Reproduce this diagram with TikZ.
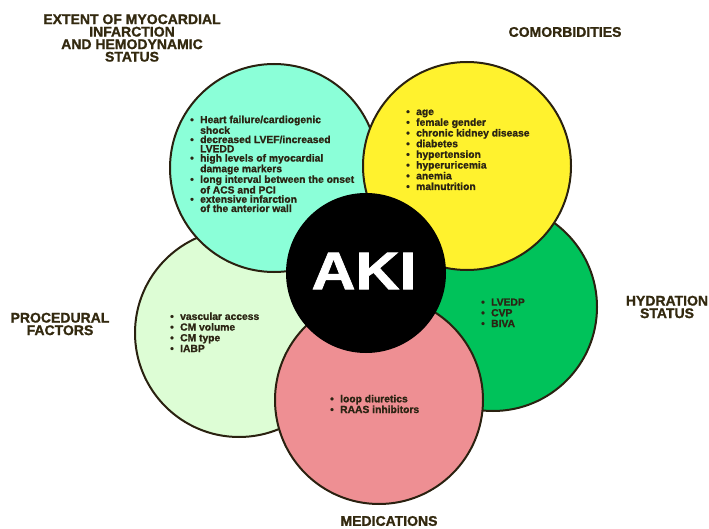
\documentclass[tikz,border=0pt]{standalone}
\usepackage{fontspec}
\setmainfont{Liberation Sans}[BoldFeatures={FakeBold=1.2}]
\usepackage{xcolor}
\definecolor{rimbrown}{HTML}{2A2110}
\definecolor{headbrown}{HTML}{33290F}
\definecolor{listdark}{HTML}{2B2413}
\definecolor{aquapetal}{HTML}{8BFFD8}
\definecolor{yellowpetal}{HTML}{FFF22E}
\definecolor{greenpetal}{HTML}{00C25A}
\definecolor{palepetal}{HTML}{DDFDD5}
\definecolor{pinkpetal}{HTML}{EE8F93}
\newcommand{\bul}[1]{\makebox[10pt][l]{\textbullet}#1}
\newcommand{\cont}[1]{\hspace*{10pt}#1}

\begin{document}
\begin{tikzpicture}[x=1pt, y=-1pt]
        % ================= styles =================
        \tikzset{
            % coloured petal circle
            petal/.style={circle, draw=rimbrown, line width=2pt, minimum size=208pt, inner sep=0pt},
            % black hub in the middle
            hub/.style={circle, fill=black, minimum size=160pt, inner sep=0pt},
            % outer group titles
            heading/.style={align=center, inner sep=0pt, text=headbrown, font=\bfseries\fontsize{14}{12.5}\selectfont},
            % bullet lists inside the petals (anchored on the last baseline)
            factors/.style={align=left, anchor=base west, inner sep=0pt, text=listdark, font=\bfseries\fontsize{10.3}{10.7}\selectfont}
        }
        \useasboundingbox (0,0) rectangle (709,529);

        % ================= centres (pixel grid) =================
        \coordinate (infarct_c) at (274,168);
        \coordinate (comorb_c) at (467,166);
        \coordinate (hydra_c) at (493,307);
        \coordinate (proc_c) at (239,333);
        \coordinate (med_c) at (379,400);
        \coordinate (aki_c) at (366,273);

        % ================= petals (back to front) =================
        \node[petal, fill=greenpetal] (hydra) at (hydra_c) {};
        \node[petal, fill=palepetal] (proc) at (proc_c) {};
        \node[petal, fill=aquapetal] (infarct) at (infarct_c) {};
        \node[petal, fill=yellowpetal] (comorb) at (comorb_c) {};
        \node[petal, fill=pinkpetal] (med) at (med_c) {};
        \node[hub] (aki) at (aki_c) {};
        \node[text=white, font=\bfseries\fontsize{53}{53}\selectfont] (aki_t) at (364,271) {\scalebox{1.15}[1]{AKI}};

        % ================= lists =================
        \node[factors, font=\bfseries\fontsize{10.3}{9.25}\selectfont] (infarct_l) at (190,212)
            {\bul{Heart failure/cardiogenic}\\ \cont{shock}\\
             \bul{decreased LVEF/increased}\\ \cont{LVEDD}\\
             \bul{high levels of myocardial}\\ \cont{damage markers}\\
             \bul{long interval between the onset}\\ \cont{of ACS and PCI}\\
             \bul{extensive infarction}\\ \cont{of the anterior wall}};
        \node[factors] (comorb_l) at (406,190)
            {\bul{age}\\ \bul{female gender}\\ \bul{chronic kidney disease}\\ \bul{diabetes}\\
             \bul{hypertension}\\ \bul{hyperuricemia}\\ \bul{anemia}\\ \bul{malnutrition}};
        \node[factors] (hydra_l) at (481,327)
            {\bul{LVEDP}\\ \bul{CVP}\\ \bul{BIVA}};
        \node[factors] (proc_l) at (170,352)
            {\bul{vascular access}\\ \bul{CM volume}\\ \bul{CM type}\\ \bul{IABP}};
        \node[factors] (med_l) at (330,413)
            {\bul{loop diuretics}\\ \bul{RAAS inhibitors}};

        % ================= group titles =================
        \node[heading] (infarct_h) at (132,38) {EXTENT OF MYOCARDIAL\\ INFARCTION\\ AND HEMODYNAMIC\\ STATUS};
        \node[heading] (comorb_h) at (565,32) {COMORBIDITIES};
        \node[heading] (hydra_h) at (667,307) {HYDRATION\\ STATUS};
        \node[heading] (proc_h) at (60,324) {PROCEDURAL\\ FACTORS};
        \node[heading] (med_h) at (389,521) {MEDICATIONS};

    \end{tikzpicture}
\end{document}
